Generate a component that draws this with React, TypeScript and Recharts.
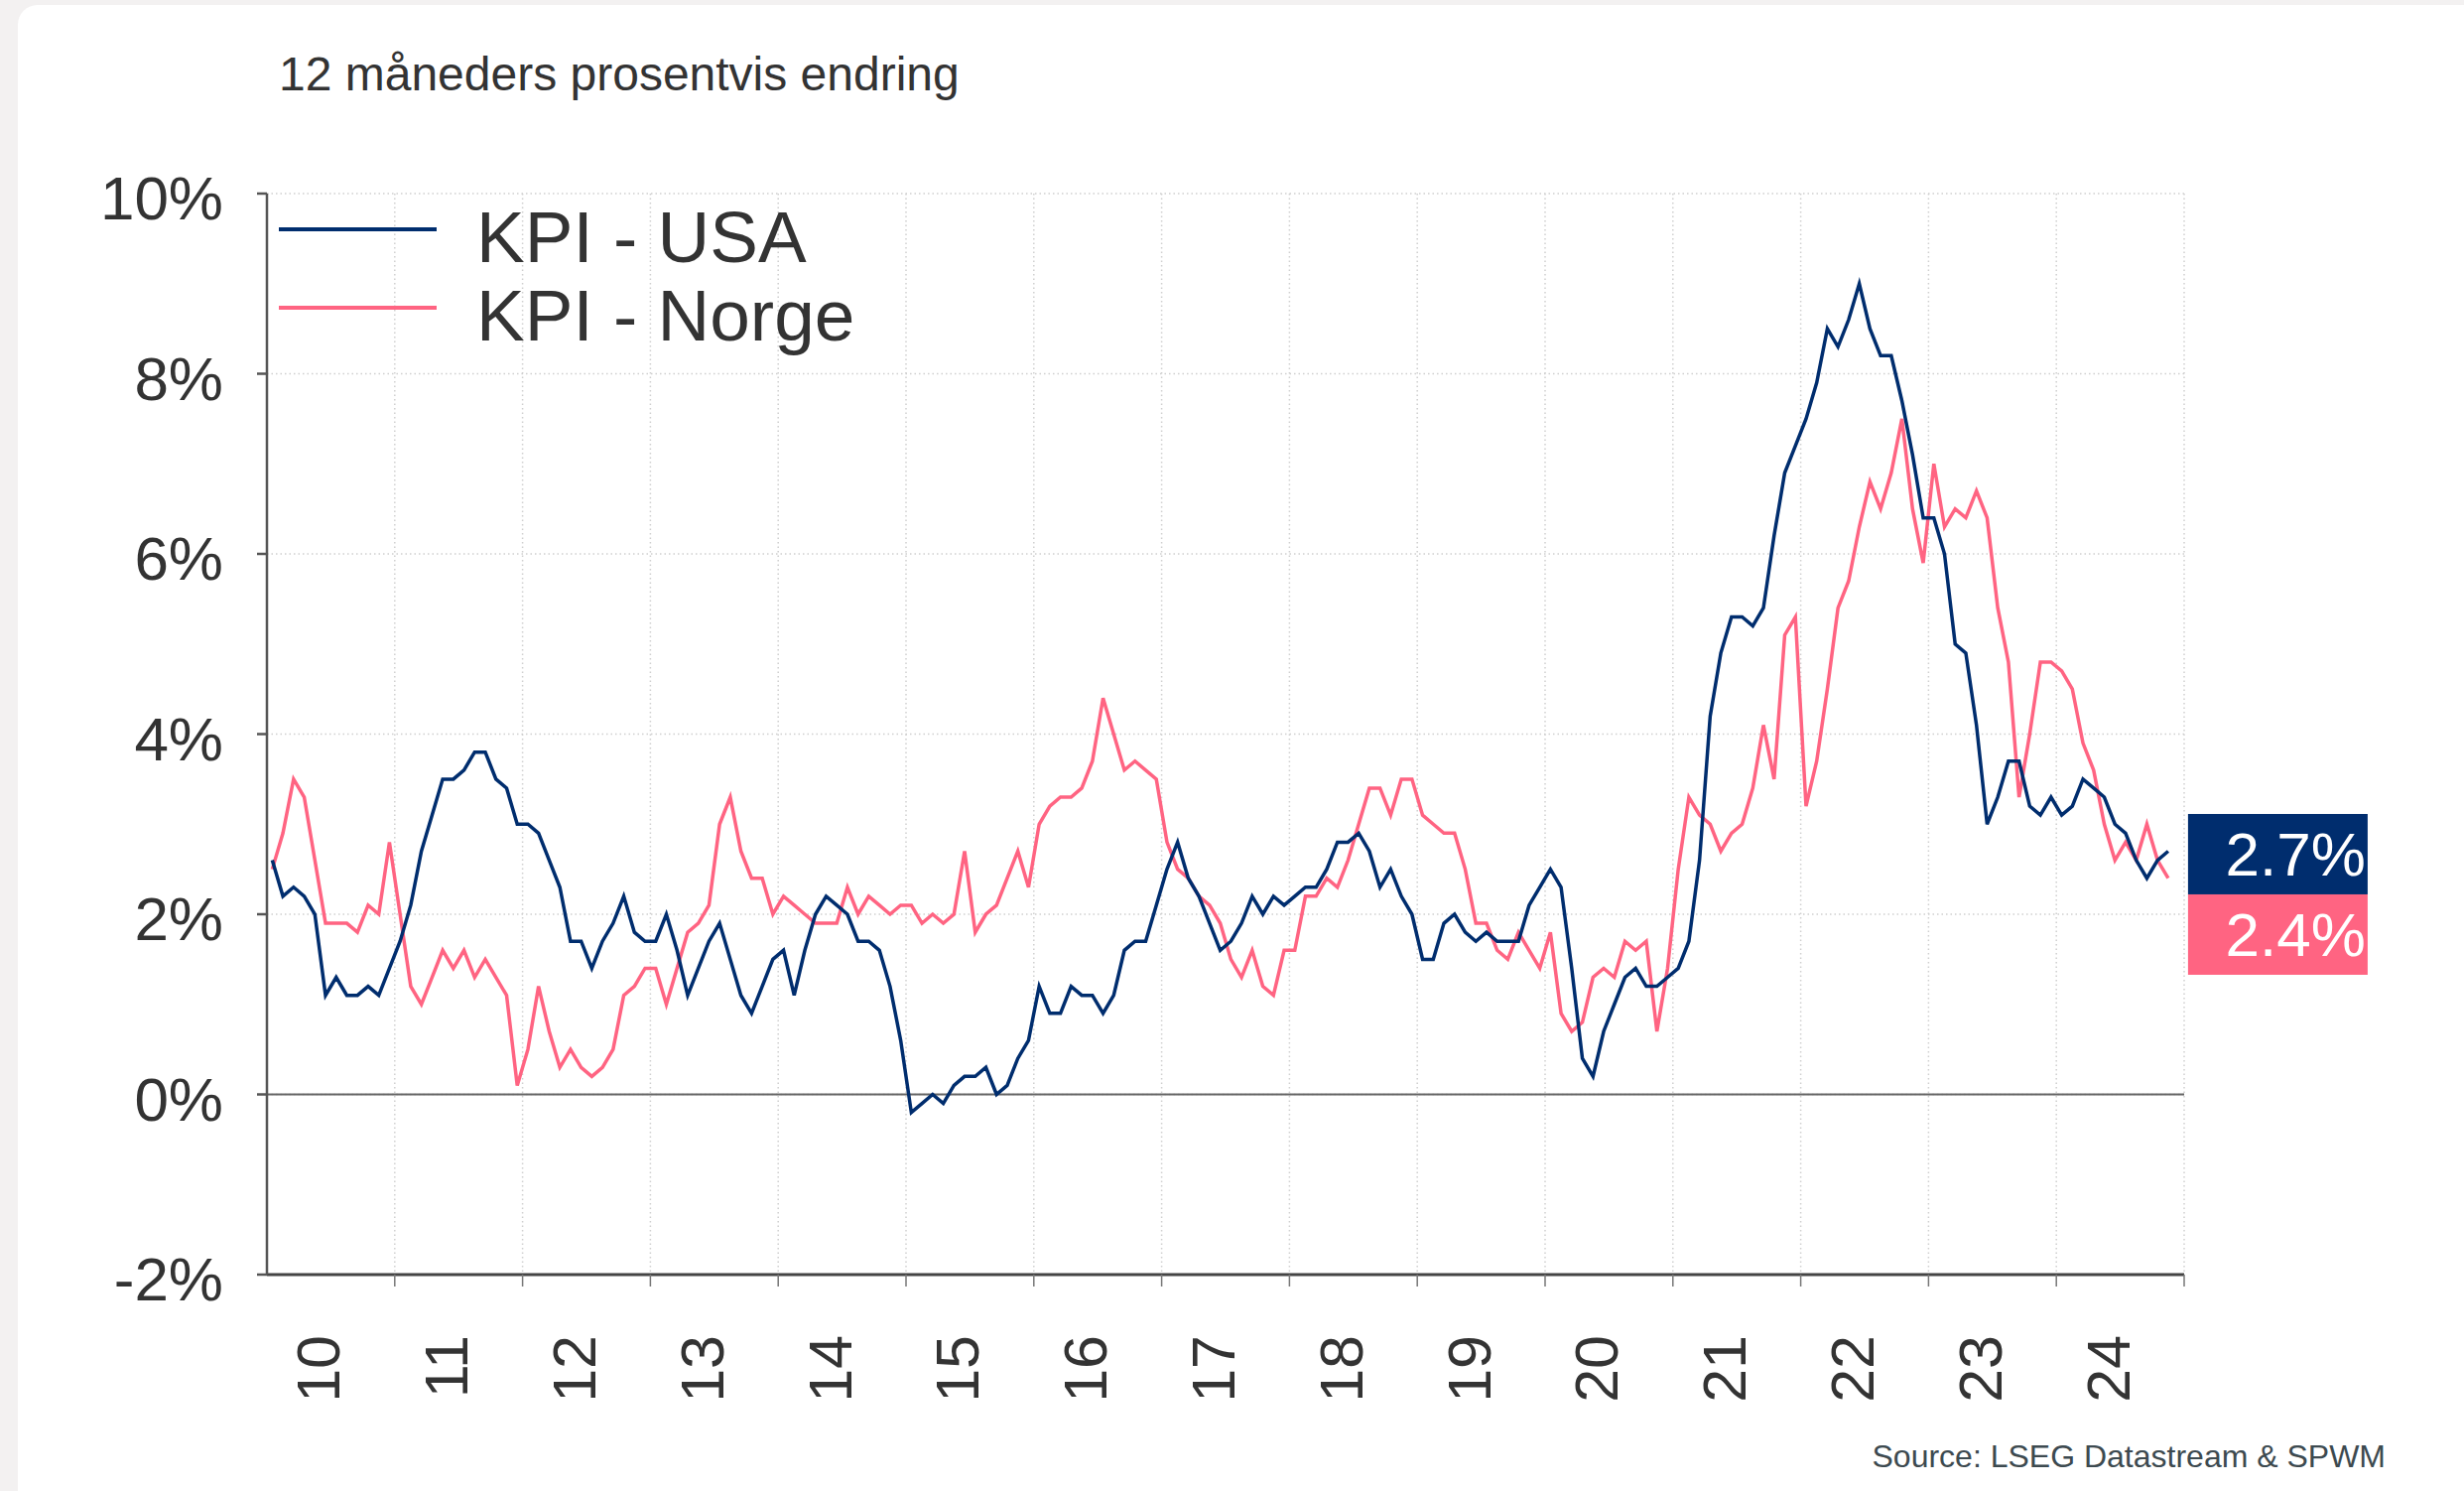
import React from 'react';
import { LineChart, Line, XAxis, YAxis, CartesianGrid, ReferenceLine } from 'recharts';

document.body.style.margin = '0';

const FONT = '"Liberation Sans", Arial, Helvetica, sans-serif';
const NAVY = '#002D6E';
const PINK = '#FF6482';
const TEXT = '#333333';

// 12 måneders endring, månedlig fra jan 2010 til nov 2024
const kpiUsa = [
  2.6, 2.2, 2.3, 2.2, 2.0, 1.1, 1.3, 1.1, 1.1, 1.2, 1.1, 1.4, // 2010
  1.7, 2.1, 2.7, 3.1, 3.5, 3.5, 3.6, 3.8, 3.8, 3.5, 3.4, 3.0, // 2011
  3.0, 2.9, 2.6, 2.3, 1.7, 1.7, 1.4, 1.7, 1.9, 2.2, 1.8, 1.7, // 2012
  1.7, 2.0, 1.6, 1.1, 1.4, 1.7, 1.9, 1.5, 1.1, 0.9, 1.2, 1.5, // 2013
  1.6, 1.1, 1.6, 2.0, 2.2, 2.1, 2.0, 1.7, 1.7, 1.6, 1.2, 0.6, // 2014
  -0.2, -0.1, 0.0, -0.1, 0.1, 0.2, 0.2, 0.3, 0.0, 0.1, 0.4, 0.6, // 2015
  1.2, 0.9, 0.9, 1.2, 1.1, 1.1, 0.9, 1.1, 1.6, 1.7, 1.7, 2.1, // 2016
  2.5, 2.8, 2.4, 2.2, 1.9, 1.6, 1.7, 1.9, 2.2, 2.0, 2.2, 2.1, // 2017
  2.2, 2.3, 2.3, 2.5, 2.8, 2.8, 2.9, 2.7, 2.3, 2.5, 2.2, 2.0, // 2018
  1.5, 1.5, 1.9, 2.0, 1.8, 1.7, 1.8, 1.7, 1.7, 1.7, 2.1, 2.3, // 2019
  2.5, 2.3, 1.4, 0.4, 0.2, 0.7, 1.0, 1.3, 1.4, 1.2, 1.2, 1.3, // 2020
  1.4, 1.7, 2.6, 4.2, 4.9, 5.3, 5.3, 5.2, 5.4, 6.2, 6.9, 7.2, // 2021
  7.5, 7.9, 8.5, 8.3, 8.6, 9.0, 8.5, 8.2, 8.2, 7.7, 7.1, 6.4, // 2022
  6.4, 6.0, 5.0, 4.9, 4.1, 3.0, 3.3, 3.7, 3.7, 3.2, 3.1, 3.3, // 2023
  3.1, 3.2, 3.5, 3.4, 3.3, 3.0, 2.9, 2.6, 2.4, 2.6, 2.7, // 2024
];

const kpiNorge = [
  2.5, 2.9, 3.5, 3.3, 2.6, 1.9, 1.9, 1.9, 1.8, 2.1, 2.0, 2.8, // 2010
  2.0, 1.2, 1.0, 1.3, 1.6, 1.4, 1.6, 1.3, 1.5, 1.3, 1.1, 0.1, // 2011
  0.5, 1.2, 0.7, 0.3, 0.5, 0.3, 0.2, 0.3, 0.5, 1.1, 1.2, 1.4, // 2012
  1.4, 1.0, 1.4, 1.8, 1.9, 2.1, 3.0, 3.3, 2.7, 2.4, 2.4, 2.0, // 2013
  2.2, 2.1, 2.0, 1.9, 1.9, 1.9, 2.3, 2.0, 2.2, 2.1, 2.0, 2.1, // 2014
  2.1, 1.9, 2.0, 1.9, 2.0, 2.7, 1.8, 2.0, 2.1, 2.4, 2.7, 2.3, // 2015
  3.0, 3.2, 3.3, 3.3, 3.4, 3.7, 4.4, 4.0, 3.6, 3.7, 3.6, 3.5, // 2016
  2.8, 2.5, 2.4, 2.2, 2.1, 1.9, 1.5, 1.3, 1.6, 1.2, 1.1, 1.6, // 2017
  1.6, 2.2, 2.2, 2.4, 2.3, 2.6, 3.0, 3.4, 3.4, 3.1, 3.5, 3.5, // 2018
  3.1, 3.0, 2.9, 2.9, 2.5, 1.9, 1.9, 1.6, 1.5, 1.8, 1.6, 1.4, // 2019
  1.8, 0.9, 0.7, 0.8, 1.3, 1.4, 1.3, 1.7, 1.6, 1.7, 0.7, 1.4, // 2020
  2.5, 3.3, 3.1, 3.0, 2.7, 2.9, 3.0, 3.4, 4.1, 3.5, 5.1, 5.3, // 2021
  3.2, 3.7, 4.5, 5.4, 5.7, 6.3, 6.8, 6.5, 6.9, 7.5, 6.5, 5.9, // 2022
  7.0, 6.3, 6.5, 6.4, 6.7, 6.4, 5.4, 4.8, 3.3, 4.0, 4.8, 4.8, // 2023
  4.7, 4.5, 3.9, 3.6, 3.0, 2.6, 2.8, 2.6, 3.0, 2.6, 2.4, // 2024
];

const yearLabels = ['10', '11', '12', '13', '14', '15', '16', '17', '18', '19', '20', '21', '22', '23', '24'];
const yTicks = [-2, 0, 2, 4, 6, 8, 10];
const seriesNames = ['KPI - USA', 'KPI - Norge'];

const data = kpiUsa.map((v, i) => ({ t: i + 0.5, usa: v, norge: kpiNorge[i] }));
const lastIndex = data.length - 1;
const xMax = yearLabels.length * 12;
const yearTicks = yearLabels.map((_, i) => (i + 1) * 12);

const W = 2483;
const H = 1502;
const MARGIN = { top: 195, right: 282, bottom: 56, left: 169 };
const Y_AXIS_W = 100;
const PLOT_W = W - MARGIN.left - Y_AXIS_W - MARGIN.right;
const HALF_YEAR_PX = (PLOT_W / xMax) * 6;

// tick at each year end; the year's label sits half a year to the left
const YearTick = (props: any) => {
  const { x, y, payload } = props;
  const label = yearLabels[payload.value / 12 - 1];
  const cx = x - HALF_YEAR_PX - 12;
  const cy = y + 49;
  return (
    <text
      x={cx}
      y={cy}
      transform={`rotate(-90 ${cx} ${cy})`}
      textAnchor="end"
      dominantBaseline="central"
      fontSize={61}
      fontFamily={FONT}
      fill={TEXT}
    >
      {label}
    </text>
  );
};

const EndLabels = (props: any) => {
  const { index } = props;
  if (index !== lastIndex) return null;
  const x = props.x ?? props.viewBox?.x;
  const y = props.y ?? props.viewBox?.y;
  const w = 181;
  const h = 81;
  const left = x + 20;
  const top = y - h / 2 + 3;
  return (
    <g>
      <rect x={left} y={top} width={w} height={h} fill={NAVY} />
      <text x={left + w - 2} y={top + h / 2 + 22} textAnchor="end" fontSize={62} fontFamily={FONT} fill="#fff">
        {kpiUsa[lastIndex].toFixed(1)}%
      </text>
      <rect x={left} y={top + h} width={w} height={h} fill={PINK} />
      <text x={left + w - 2} y={top + h * 1.5 + 22} textAnchor="end" fontSize={62} fontFamily={FONT} fill="#fff">
        {kpiNorge[lastIndex].toFixed(1)}%
      </text>
    </g>
  );
};

export default function App() {
  const colors = [NAVY, PINK];
  return (
    <div style={{ position: 'relative', width: W, height: H, background: '#f3f1f1', fontFamily: FONT, overflow: 'hidden' }}>
      <div style={{ position: 'absolute', left: 18, top: 5, right: 0, bottom: 0, background: '#fff', borderTopLeftRadius: 20 }} />
      <div style={{ position: 'absolute', left: 0, top: 0 }}>
        <LineChart width={W} height={H} data={data} margin={MARGIN}>
          <CartesianGrid
            stroke="#cfcfcf"
            strokeDasharray="1.5 3"
            strokeWidth={1.5}
            verticalFill={[]}
            horizontalFill={[]}
          />
          <XAxis
            dataKey="t"
            type="number"
            domain={[0, xMax]}
            ticks={yearTicks}
            allowDataOverflow
            height={162}
            tickSize={12}
            tickMargin={0}
            axisLine={{ stroke: '#444', strokeWidth: 3 }}
            tickLine={{ stroke: '#777', strokeWidth: 1.5 }}
            tick={<YearTick />}
          />
          <YAxis
            type="number"
            domain={[-2, 10]}
            ticks={yTicks}
            width={Y_AXIS_W}
            tickSize={10}
            tickMargin={34}
            tickFormatter={(v: number) => `${v}%`}
            axisLine={{ stroke: '#555', strokeWidth: 2.5 }}
            tickLine={{ stroke: '#555', strokeWidth: 2.5 }}
            tick={{ fontSize: 62, fill: TEXT, fontFamily: FONT, dy: 4 }}
          />
          <ReferenceLine y={0} stroke="#666" strokeWidth={2} />
          <Line
            type="linear"
            dataKey="norge"
            name={seriesNames[1]}
            stroke={PINK}
            strokeWidth={3.5}
            dot={false}
            activeDot={false}
            isAnimationActive={false}
          />
          <Line
            type="linear"
            dataKey="usa"
            name={seriesNames[0]}
            stroke={NAVY}
            strokeWidth={3.5}
            dot={false}
            activeDot={false}
            isAnimationActive={false}
            label={EndLabels}
          />
        </LineChart>
      </div>

      <div style={{ position: 'absolute', left: 281, top: 51, fontSize: 48, lineHeight: '48px', color: TEXT, whiteSpace: 'nowrap' }}>
        12 måneders prosentvis endring
      </div>

      <div style={{ position: 'absolute', left: 281, top: 199 }}>
        {seriesNames.map((name, i) => (
          <div key={name} style={{ display: 'flex', alignItems: 'flex-start', height: 79 }}>
            <div style={{ width: 159, height: 3.5, marginTop: 30, background: colors[i] }} />
            <div style={{ marginLeft: 40, fontSize: 73, lineHeight: '80px', color: TEXT, whiteSpace: 'nowrap' }}>{name}</div>
          </div>
        ))}
      </div>

      <div style={{ position: 'absolute', right: 79, top: 1451, fontSize: 32, lineHeight: '32px', color: '#3d4a50', whiteSpace: 'nowrap' }}>
        Source: LSEG Datastream &amp; SPWM
      </div>
    </div>
  );
}
